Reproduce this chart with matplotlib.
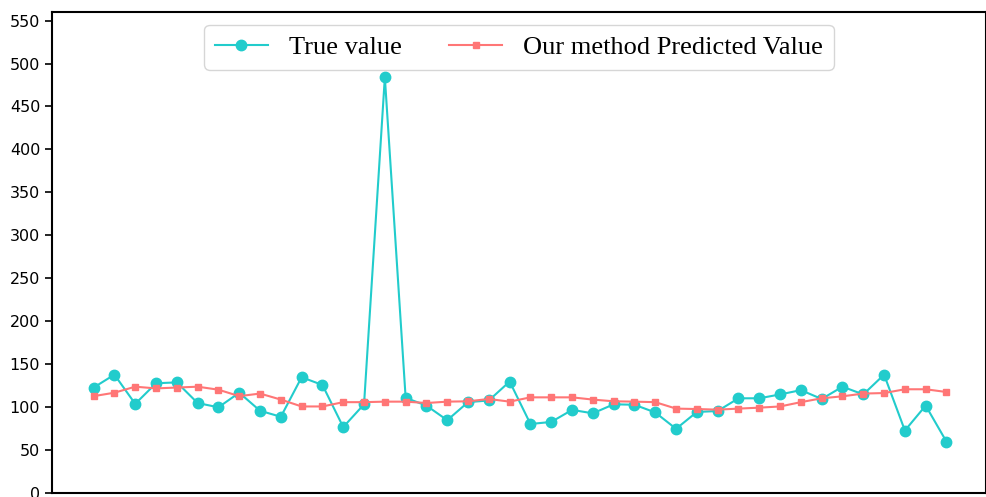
import matplotlib
matplotlib.use("Agg")
import matplotlib.pyplot as plt
import numpy as np

true_value = [123, 138, 104, 128, 129, 105, 100, 117, 96, 89, 135, 126, 77, 103.5,
              484, 111, 102, 85, 106, 108, 130, 80.6, 83, 97, 93, 103.5, 103, 94,
              75, 94.6, 95.7, 110.5, 110.5, 115, 120, 109.7, 124, 115, 138, 73, 102, 60]
predicted = [113, 117, 124, 122, 123, 124, 120.5, 113, 116, 109, 101, 101, 106, 106,
             106.6, 106.6, 105, 106.6, 107, 109.7, 106.6, 111.6, 111.6, 111.6, 109, 107, 106.6, 106,
             98.5, 98, 97.3, 98.5, 99.6, 101, 106, 110.5, 112.8, 116, 116.6, 121, 121, 117.8]
y_ticks = [0, 50, 100, 150, 200, 250, 300, 350, 400, 450, 500, 550]

x = np.arange(len(true_value))

fig = plt.figure(figsize=(9.87, 4.97), dpi=100)
ax = fig.add_axes([0.0527, 0.0075, 0.9463, 0.9685])

ax.plot(x, true_value, color="#22CCCC", lw=1.5, marker="o", markersize=7.5,
        label="True value")
ax.plot(x, predicted, color="#FF7676", lw=1.5, marker="s", markersize=5,
        label="Our method Predicted Value")

ax.set_xlim(-2, len(x) + 0.9)
ax.set_ylim(0, 560)
ax.set_yticks(y_ticks)
ax.set_xticks([])
ax.tick_params(axis="y", labelsize=11.5, width=1.2, length=5)
for s in ax.spines.values():
    s.set_linewidth(1.5)

leg = ax.legend(loc="upper center", ncol=2, bbox_to_anchor=(0.5, 1.0),
                prop={"family": "Liberation Serif", "size": 19}, numpoints=1,
                framealpha=0.8, edgecolor="#cccccc", columnspacing=1.8)

fig.savefig("out.png", dpi=100)
